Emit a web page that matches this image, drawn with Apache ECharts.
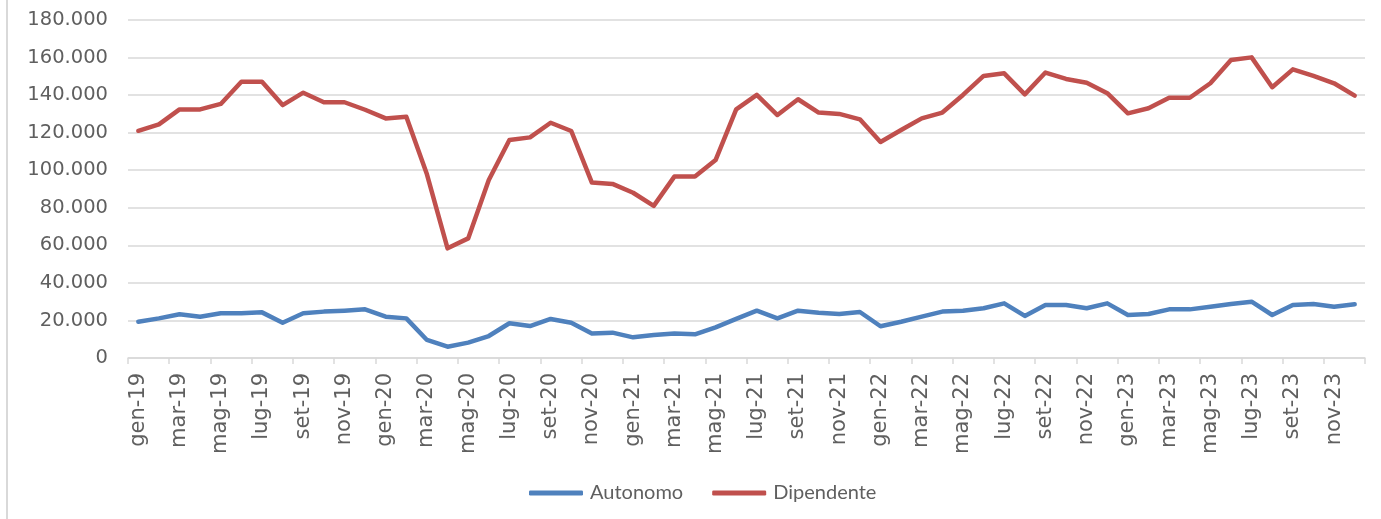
<!DOCTYPE html>
<html>
<head>
<meta charset="utf-8">
<script src="https://cdn.jsdelivr.net/npm/echarts@6/dist/echarts.min.js"></script>
<style>
  html, body { margin: 0; padding: 0; background: #ffffff; }
  #chart { width: 1381px; height: 519px; }
</style>
</head>
<body>
<div id="chart"></div>
<script>
// Monthly categories, gen-19 … dic-23
const monthNames = ['gen', 'feb', 'mar', 'apr', 'mag', 'giu', 'lug', 'ago', 'set', 'ott', 'nov', 'dic'];
const years = ['19', '20', '21', '22', '23'];
const categories = [];
years.forEach(y => monthNames.forEach(m => categories.push(m + '-' + y)));

// Autonomo (self-employed)
const autonomo = [
  19300, 21100, 23300, 22000, 23800, 23800, 24300, 18800, 23800, 24700, 25200, 25900,
  22000, 21100, 9600, 6000, 8200, 11700, 18500, 17000, 20800, 18800, 13100, 13500,
  11000, 12200, 13100, 12600, 16300, 20800, 25200, 21100, 25200, 24100, 23400, 24500,
  16900, 19300, 22000, 24700, 25200, 26500, 29100, 22400, 28200, 28200, 26500, 29100,
  22900, 23400, 25900, 25900, 27300, 28800, 30000, 22900, 28200, 28800, 27300, 28600
];

// Dipendente (employed)
const dipendente = [
  121000, 124400, 132400, 132400, 135300, 147100, 147100, 134700, 141300, 136200, 136200, 132200,
  127600, 128500, 97800, 58400, 63700, 94800, 116100, 117500, 125300, 120900, 93400, 92700,
  88000, 81000, 96600, 96600, 105400, 132400, 140100, 129400, 137800, 130700, 130000, 127100,
  115000, 121400, 127600, 130700, 140100, 150200, 151600, 140400, 152000, 148600, 146600, 141000,
  130300, 133000, 138600, 138600, 146300, 158700, 160100, 144200, 153700, 150200, 146300, 139700
];

// Y axis range
const yMin = 0;
const yMax = 180000;
const yStep = 20000;

const seriesNames = ['Autonomo', 'Dipendente'];
const seriesColors = ['#4F81BD', '#C0504D'];

// Italian thousands separator: 180000 -> 180.000
function formatThousands(v) {
  return String(v).replace(/\B(?=(\d{3})+(?!\d))/g, '.');
}

const chart = echarts.init(document.getElementById('chart'), null, { renderer: 'canvas' });

const textColor = '#5f5f5f';
const gridColor = '#d9d9d9';
const axisFont = 'DejaVu Sans, Verdana, sans-serif';

chart.setOption({
  animation: false,
  backgroundColor: '#ffffff',
  grid: { left: 128, right: 16, top: 20, bottom: 161, containLabel: false },
  graphic: [{
    type: 'line',
    shape: { x1: 7, y1: 0, x2: 7, y2: 519 },
    style: { stroke: gridColor, lineWidth: 2 },
    silent: true
  }],
  legend: {
    data: seriesNames,
    left: 524,
    top: 478,
    itemWidth: 54,
    itemHeight: 5,
    itemGap: 29,
    icon: 'roundRect',
    textStyle: { color: textColor, fontSize: 20, fontFamily: 'Lato, Calibri, sans-serif', padding: [0, 0, 0, 2] }
  },
  xAxis: {
    type: 'category',
    data: categories,
    boundaryGap: true,
    axisLine: { show: true, lineStyle: { color: gridColor, width: 1.5 } },
    axisTick: { show: true, interval: 1, length: 6, lineStyle: { color: gridColor, width: 1.5 } },
    axisLabel: {
      interval: 1,
      rotate: 90,
      margin: 15,
      color: textColor,
      fontSize: 21,
      fontFamily: axisFont
    },
    splitLine: { show: false }
  },
  yAxis: {
    type: 'value',
    min: yMin,
    max: yMax,
    interval: yStep,
    axisLine: { show: false },
    axisTick: { show: false },
    axisLabel: {
      margin: 20,
      color: textColor,
      fontSize: 19.5,
      fontFamily: axisFont,
      formatter: formatThousands
    },
    splitLine: { show: true, lineStyle: { color: gridColor, width: 1.5 } }
  },
  series: [
    {
      name: seriesNames[0],
      type: 'line',
      data: autonomo,
      showSymbol: false,
      symbol: 'none',
      color: seriesColors[0],
      lineStyle: { color: seriesColors[0], width: 4.5, cap: 'round', join: 'round' }
    },
    {
      name: seriesNames[1],
      type: 'line',
      data: dipendente,
      showSymbol: false,
      symbol: 'none',
      color: seriesColors[1],
      lineStyle: { color: seriesColors[1], width: 4.5, cap: 'round', join: 'round' }
    }
  ]
});
</script>
</body>
</html>
